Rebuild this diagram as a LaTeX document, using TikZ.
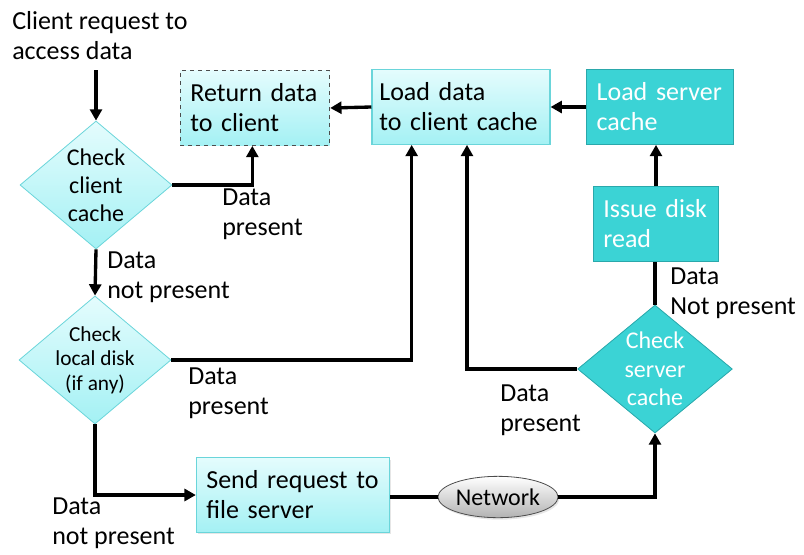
\documentclass[tikz,border=0pt]{standalone}
\usepackage{fontspec}
\setmainfont{Carlito}
\usetikzlibrary{positioning,arrows.meta,shapes.geometric,shadows}

\definecolor{paletop}{HTML}{E4FCFD}
\definecolor{palebot}{HTML}{A4F1F4}
\definecolor{paleline}{HTML}{6AD5DA}
\definecolor{tealfill}{HTML}{3BD3D5}
\definecolor{tealline}{HTML}{2AA8AB}

\begin{document}
\begin{tikzpicture}[
  x=0.75pt, y=-0.75pt,
  every node/.style={font=\fontsize{19.5}{22.5}\selectfont},
  box/.style={draw=paleline, line width=0.8pt, top color=paletop, bottom color=palebot, align=left, inner xsep=7.5pt, minimum height=56pt},
  srvbox/.style={draw=tealline, line width=0.8pt, fill=tealfill, text=white, align=left, inner xsep=7.5pt, minimum height=56pt},
  decision/.style={diamond, draw=paleline, line width=0.6pt, top color=paletop, bottom color=palebot, minimum width=114pt, minimum height=96pt, inner sep=0pt},
  lbl/.style={anchor=north west, align=left, inner sep=0pt},
  arrow/.style={-{Triangle[length=8.5pt,width=9pt]}, line width=2.5pt},
  wire/.style={line width=2.5pt},
]
  % background keeps the page size
  \useasboundingbox (0,0) rectangle (804,554);

  % boxes along the top
  \node[box, draw=black!70, dashed, text width=97pt] (ret) at (255,108) {Return data\\to client};
  \node[box, inner xsep=5.5pt, text width=122.5pt] (ld) at (461,107) {Load data\\to client cache};
  \node[srvbox, text width=95pt] (lsc) at (660,107) {Load server\\cache};
  \node[srvbox, text width=79pt] (idr) at (656,224) {Issue disk\\read};

  % decisions
  \node[decision, label={[align=center, font=\fontsize{18}{21}\selectfont]center:Check\\client\\cache}] (cc) at (96,185) {};
  \node[decision, label={[align=center, font=\fontsize{16}{18.5}\selectfont]center:Check\\local disk\\(if any)}] (disk) at (95,360) {};
  \node[decision, draw=tealline, fill=tealfill, top color=tealfill, bottom color=tealfill, minimum width=116pt,
        label={[align=center, text=white, font=\fontsize{18}{21.5}\selectfont]center:Check\\server\\cache}] (sc) at (655,369) {};

  % going out to the server
  \node[box, text width=130pt, drop shadow={opacity=0.2, shadow xshift=1pt, shadow yshift=-1.5pt}] (send) at (293,495) {Send request to\\file server};
  \node[ellipse, draw=black!70, line width=0.6pt, top color=white, bottom color=black!30, minimum width=90pt, minimum height=31pt, inner sep=0pt,
        font=\fontsize{18}{21}\selectfont, drop shadow={opacity=0.2, shadow xshift=1pt, shadow yshift=-1.5pt}] (net) at (498,497) {Network};

  % texts
  \node[lbl] (req) at (12,11) {Client request to\\access data};
  \node[lbl] (hit1) at (222,189) {Data\\present};
  \node[lbl] (miss1) at (107,252) {Data\\not present};
  \node[lbl] (hit2) at (188,368) {Data\\present};
  \node[lbl] (miss2) at (52,498) {Data\\not present};
  \node[lbl] (hit3) at (500,385) {Data\\present};
  \node[lbl] (miss3) at (670,268) {Data\\Not present};

  % connectors
  \draw[arrow] ([yshift=-8pt]req.south -| cc.north) -- (cc.north);
  \draw[arrow] (cc.east) -| ([xshift=-2pt]ret.south);
  \draw[arrow] (ld.west) -- (ret.east);
  \draw[arrow] (lsc.west) -- (ld.east);
  \draw[arrow] (idr.north) -- (idr.north |- lsc.south);
  \draw[wire] (sc.north) -- (sc.north |- idr.south);
  \draw[arrow] (cc.south) -- (disk.north);
  \draw[arrow] (disk.east) -| ([xshift=-37pt]ld.south);
  \draw[arrow] (sc.west) -| ([xshift=4.5pt]ld.south);
  \draw[arrow] (disk.south) |- (send.west);
  \draw[wire] (send.east |- net.west) -- (net.west);
  \draw[arrow] (net.east) -| (sc.south);
\end{tikzpicture}
\end{document}
